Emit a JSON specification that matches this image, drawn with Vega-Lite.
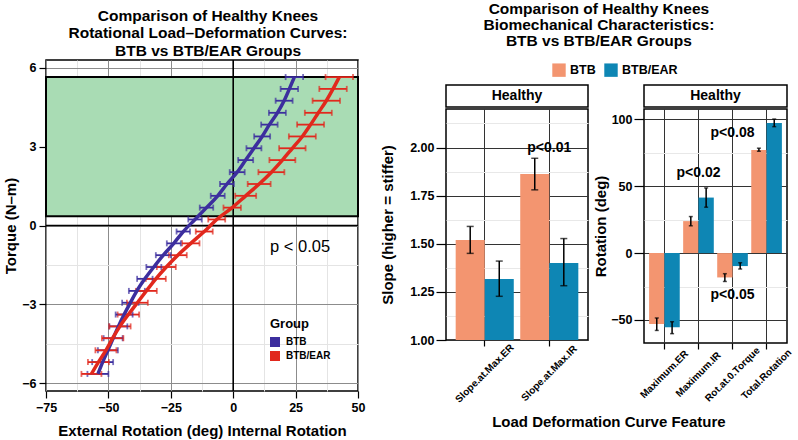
{
  "$schema": "https://vega.github.io/schema/vega-lite/v6.json",
  "padding": {"left": 2, "top": 1, "right": 2, "bottom": 0},
  "config": {
    "font": "Liberation Sans",
    "view": {"stroke": "black", "strokeWidth": 1.5},
    "axis": {"labelFont": "Liberation Sans", "labelFontWeight": "bold", "labelFontSize": 12.5, "labelColor": "black", "titleFont": "Liberation Sans", "titleFontSize": 15, "titleFontWeight": "bold", "titleColor": "black", "tickColor": "black", "domain": false, "tickSize": 6, "tickWidth": 1.2},
    "title": {"font": "Liberation Sans", "fontSize": 15.5, "fontWeight": "bold", "color": "black", "lineHeight": 17}
  },
  "datasets": {
    "curves": [
      {"g": "BTB", "t": 5.65, "r": 24.5, "lo": 21.0, "hi": 28.0},
      {"g": "BTB", "t": 5.2, "r": 22.5, "lo": 19.0, "hi": 26.0},
      {"g": "BTB", "t": 4.75, "r": 20.4, "lo": 17.0, "hi": 23.8},
      {"g": "BTB", "t": 4.29, "r": 17.7, "lo": 14.3, "hi": 21.1},
      {"g": "BTB", "t": 3.84, "r": 14.5, "lo": 11.2, "hi": 17.8},
      {"g": "BTB", "t": 3.39, "r": 11.6, "lo": 8.4, "hi": 14.8},
      {"g": "BTB", "t": 2.94, "r": 8.3, "lo": 5.3, "hi": 11.3},
      {"g": "BTB", "t": 2.49, "r": 5.0, "lo": 2.0, "hi": 8.0},
      {"g": "BTB", "t": 2.03, "r": 1.6, "lo": -1.4, "hi": 4.6},
      {"g": "BTB", "t": 1.58, "r": -2.5, "lo": -5.3, "hi": 0.3},
      {"g": "BTB", "t": 1.13, "r": -6.2, "lo": -9.0, "hi": -3.4},
      {"g": "BTB", "t": 0.68, "r": -10.7, "lo": -13.4, "hi": -8.0},
      {"g": "BTB", "t": 0.23, "r": -15.3, "lo": -18.0, "hi": -12.6},
      {"g": "BTB", "t": -0.23, "r": -20.0, "lo": -22.7, "hi": -17.3},
      {"g": "BTB", "t": -0.68, "r": -23.8, "lo": -26.6, "hi": -21.0},
      {"g": "BTB", "t": -1.13, "r": -28.0, "lo": -31.0, "hi": -25.0},
      {"g": "BTB", "t": -1.58, "r": -31.8, "lo": -34.8, "hi": -28.8},
      {"g": "BTB", "t": -2.03, "r": -35.4, "lo": -38.5, "hi": -32.3},
      {"g": "BTB", "t": -2.49, "r": -38.6, "lo": -41.8, "hi": -35.4},
      {"g": "BTB", "t": -2.94, "r": -41.2, "lo": -44.5, "hi": -37.9},
      {"g": "BTB", "t": -3.39, "r": -43.7, "lo": -47.1, "hi": -40.3},
      {"g": "BTB", "t": -3.84, "r": -46.0, "lo": -49.6, "hi": -42.4},
      {"g": "BTB", "t": -4.29, "r": -48.1, "lo": -51.9, "hi": -44.3},
      {"g": "BTB", "t": -4.75, "r": -50.2, "lo": -54.2, "hi": -46.2},
      {"g": "BTB", "t": -5.2, "r": -52.3, "lo": -56.5, "hi": -48.1},
      {"g": "BTB", "t": -5.65, "r": -54.2, "lo": -58.4, "hi": -50.0},
      {"g": "BTB/EAR", "t": 5.65, "r": 42.5, "lo": 37.0, "hi": 48.0},
      {"g": "BTB/EAR", "t": 5.2, "r": 40.0, "lo": 34.5, "hi": 45.5},
      {"g": "BTB/EAR", "t": 4.75, "r": 37.3, "lo": 31.8, "hi": 42.8},
      {"g": "BTB/EAR", "t": 4.29, "r": 34.1, "lo": 28.7, "hi": 39.5},
      {"g": "BTB/EAR", "t": 3.84, "r": 31.0, "lo": 25.6, "hi": 36.4},
      {"g": "BTB/EAR", "t": 3.39, "r": 27.7, "lo": 22.3, "hi": 33.1},
      {"g": "BTB/EAR", "t": 2.94, "r": 23.7, "lo": 18.4, "hi": 29.0},
      {"g": "BTB/EAR", "t": 2.49, "r": 19.7, "lo": 14.5, "hi": 24.9},
      {"g": "BTB/EAR", "t": 2.03, "r": 15.3, "lo": 10.1, "hi": 20.5},
      {"g": "BTB/EAR", "t": 1.58, "r": 10.4, "lo": 5.8, "hi": 15.0},
      {"g": "BTB/EAR", "t": 1.13, "r": 5.0, "lo": 0.8, "hi": 9.2},
      {"g": "BTB/EAR", "t": 0.68, "r": -0.4, "lo": -3.9, "hi": 3.1},
      {"g": "BTB/EAR", "t": 0.23, "r": -6.6, "lo": -10.0, "hi": -3.2},
      {"g": "BTB/EAR", "t": -0.23, "r": -11.6, "lo": -15.0, "hi": -8.2},
      {"g": "BTB/EAR", "t": -0.68, "r": -17.0, "lo": -20.5, "hi": -13.5},
      {"g": "BTB/EAR", "t": -1.13, "r": -22.2, "lo": -25.8, "hi": -18.6},
      {"g": "BTB/EAR", "t": -1.58, "r": -26.8, "lo": -30.6, "hi": -23.0},
      {"g": "BTB/EAR", "t": -2.03, "r": -31.0, "lo": -35.0, "hi": -27.0},
      {"g": "BTB/EAR", "t": -2.49, "r": -34.8, "lo": -39.0, "hi": -30.6},
      {"g": "BTB/EAR", "t": -2.94, "r": -38.4, "lo": -42.6, "hi": -34.2},
      {"g": "BTB/EAR", "t": -3.39, "r": -42.0, "lo": -46.3, "hi": -37.7},
      {"g": "BTB/EAR", "t": -3.84, "r": -45.4, "lo": -49.7, "hi": -41.1},
      {"g": "BTB/EAR", "t": -4.29, "r": -48.3, "lo": -52.6, "hi": -44.0},
      {"g": "BTB/EAR", "t": -4.75, "r": -51.0, "lo": -55.2, "hi": -46.8},
      {"g": "BTB/EAR", "t": -5.2, "r": -54.0, "lo": -58.2, "hi": -49.8},
      {"g": "BTB/EAR", "t": -5.65, "r": -56.8, "lo": -60.8, "hi": -52.8}
    ],
    "slope": [
      {"feature": "Slope.at.Max.ER", "group": "BTB", "mean": 1.52, "lo": 1.45, "hi": 1.59},
      {"feature": "Slope.at.Max.ER", "group": "BTB/EAR", "mean": 1.317, "lo": 1.227, "hi": 1.41},
      {"feature": "Slope.at.Max.IR", "group": "BTB", "mean": 1.862, "lo": 1.78, "hi": 1.944},
      {"feature": "Slope.at.Max.IR", "group": "BTB/EAR", "mean": 1.4, "lo": 1.282, "hi": 1.527}
    ],
    "rotation": [
      {"feature": "Maximum.ER", "group": "BTB", "mean": -53.0, "lo": -57.8, "hi": -48.5},
      {"feature": "Maximum.ER", "group": "BTB/EAR", "mean": -55.5, "lo": -60.2, "hi": -51.3},
      {"feature": "Maximum.IR", "group": "BTB", "mean": 23.9, "lo": 20.4, "hi": 27.3},
      {"feature": "Maximum.IR", "group": "BTB/EAR", "mean": 41.5, "lo": 34.3, "hi": 48.7},
      {"feature": "Rot.at.0.Torque", "group": "BTB", "mean": -18.2, "lo": -21.2, "hi": -15.4},
      {"feature": "Rot.at.0.Torque", "group": "BTB/EAR", "mean": -9.7, "lo": -11.9, "hi": -7.2},
      {"feature": "Total.Rotation", "group": "BTB", "mean": 77.1, "lo": 76.1, "hi": 78.4},
      {"feature": "Total.Rotation", "group": "BTB/EAR", "mean": 97.2, "lo": 94.5, "hi": 100.2}
    ]
  },
  "hconcat": [
    {
      "width": 312,
      "height": 331,
      "view": {"stroke": "black", "strokeWidth": 1.5},
      "title": {"text": ["Comparison of Healthy Knees", "Rotational Load–Deformation Curves:", "BTB vs BTB/EAR Groups"], "anchor": "middle", "dx": 6, "offset": 0, "lineHeight": 17.5},
      "layer": [
        {
          "data": {"values": [{"x1": -75, "x2": 50, "y1": 0.35, "y2": 5.65}]},
          "mark": {"type": "rect", "fill": "#A9DCB4", "stroke": "black", "strokeWidth": 2},
          "encoding": {
            "x": {"field": "x1", "type": "quantitative", "scale": {"domain": [-75, 50], "nice": false, "zero": false},
              "axis": {"orient": "top", "values": [-62.5, -37.5, -12.5, 12.5, 37.5], "grid": true, "gridColor": "#e4e4e4", "labels": false, "ticks": false, "domain": false, "title": null}},
            "x2": {"field": "x2"},
            "y": {"field": "y1", "type": "quantitative", "scale": {"domain": [-6.3, 6.3], "nice": false, "zero": false},
              "axis": {"orient": "right", "values": [-4.5, -1.5, 1.5, 4.5], "grid": true, "gridColor": "#e4e4e4", "labels": false, "ticks": false, "domain": false, "title": null}},
            "y2": {"field": "y2"}
          }
        },
        {
          "data": {"values": [{"v": 0}]},
          "mark": {"type": "rule", "color": "black", "strokeWidth": 1.6},
          "encoding": {"x": {"field": "v", "type": "quantitative", "axis": null, "scale": {"domain": [-75, 50], "nice": false, "zero": false}}}
        },
        {
          "data": {"values": [{"v": 0}]},
          "mark": {"type": "rule", "color": "black", "strokeWidth": 1.3},
          "encoding": {"y": {"field": "v", "type": "quantitative", "axis": null, "scale": {"domain": [-6.3, 6.3], "nice": false, "zero": false}}}
        },
        {
          "data": {"name": "curves"},
          "mark": {"type": "tick", "orient": "vertical", "size": 6, "thickness": 1.8},
          "encoding": {
            "x": {"field": "lo", "type": "quantitative", "axis": null, "scale": {"domain": [-75, 50], "nice": false, "zero": false}},
            "y": {"field": "t", "type": "quantitative", "axis": null, "scale": {"domain": [-6.3, 6.3], "nice": false, "zero": false}},
            "color": {"field": "g", "type": "nominal", "scale": {"domain": ["BTB", "BTB/EAR"], "range": ["#3C2E9E", "#E1281D"]},
              "legend": {"orient": "none", "legendX": 224, "legendY": 258, "title": "Group", "titleFontSize": 13, "titleFontWeight": "bold", "titleColor": "black", "titlePadding": 6, "labelFontSize": 10, "labelFontWeight": "bold", "labelColor": "black", "symbolType": "square", "symbolSize": 100, "symbolStrokeWidth": 0, "symbolOpacity": 1, "rowPadding": 4, "labelOffset": 6}}
          }
        },
        {
          "data": {"name": "curves"},
          "mark": {"type": "rule", "strokeWidth": 1.8},
          "encoding": {
            "x": {"field": "lo", "type": "quantitative", "axis": null, "scale": {"domain": [-75, 50], "nice": false, "zero": false}},
            "x2": {"field": "hi"},
            "y": {"field": "t", "type": "quantitative", "axis": null, "scale": {"domain": [-6.3, 6.3], "nice": false, "zero": false}},
            "color": {"field": "g", "type": "nominal", "scale": {"domain": ["BTB", "BTB/EAR"], "range": ["#3C2E9E", "#E1281D"]}, "legend": null}
          }
        },
        {
          "data": {"name": "curves"},
          "mark": {"type": "tick", "orient": "vertical", "size": 6, "thickness": 1.8},
          "encoding": {
            "x": {"field": "hi", "type": "quantitative", "axis": null, "scale": {"domain": [-75, 50], "nice": false, "zero": false}},
            "y": {"field": "t", "type": "quantitative", "axis": null, "scale": {"domain": [-6.3, 6.3], "nice": false, "zero": false}},
            "color": {"field": "g", "type": "nominal", "scale": {"domain": ["BTB", "BTB/EAR"], "range": ["#3C2E9E", "#E1281D"]}, "legend": null}
          }
        },
        {
          "data": {"name": "curves"},
          "mark": {"type": "line", "strokeWidth": 3.5, "interpolate": "monotone"},
          "encoding": {
            "x": {"field": "r", "type": "quantitative", "scale": {"domain": [-75, 50], "nice": false, "zero": false},
              "axis": {"values": [-75, -50, -25, 0, 25, 50], "format": "d", "labelFlush": false, "grid": true, "gridColor": "#8c8c8c", "gridWidth": 1, "tickSize": 7, "labelPadding": 3, "titlePadding": 10, "title": "External Rotation (deg) Internal Rotation"}},
            "y": {"field": "t", "type": "quantitative", "scale": {"domain": [-6.3, 6.3], "nice": false, "zero": false},
              "axis": {"values": [-6, -3, 0, 3, 6], "format": "d", "labelFlush": false, "grid": true, "gridColor": "#8c8c8c", "gridWidth": 1, "tickSize": 7, "labelPadding": 3, "titlePadding": 3, "title": "Torque (N–m)"}},
            "color": {"field": "g", "type": "nominal", "scale": {"domain": ["BTB", "BTB/EAR"], "range": ["#3C2E9E", "#E1281D"]}, "legend": null},
            "order": {"field": "t", "type": "quantitative"}
          }
        },
        {
          "data": {"values": [{"x": 26.8, "y": -0.83, "label": "p < 0.05"}]},
          "mark": {"type": "text", "fontSize": 16.5, "color": "black"},
          "encoding": {
            "x": {"field": "x", "type": "quantitative", "axis": null, "scale": {"domain": [-75, 50], "nice": false, "zero": false}},
            "y": {"field": "y", "type": "quantitative", "axis": null, "scale": {"domain": [-6.3, 6.3], "nice": false, "zero": false}},
            "text": {"field": "label"}
          }
        }
      ],
      "resolve": {"axis": {"x": "independent", "y": "independent"}}
    },
    {
      "title": {"text": ["Comparison of Healthy Knees", "Biomechanical Characteristics:", "BTB vs BTB/EAR Groups"], "anchor": "middle", "dx": 12, "offset": 10, "lineHeight": 16.3},
      "spacing": 8,
      "vconcat": [
        {
          "width": 100, "height": 16,
          "view": {"stroke": null},
          "data": {"values": []},
          "mark": {"type": "point", "opacity": 0}
        },
        {
          "title": {"text": "Load Deformation Curve Feature", "orient": "bottom", "anchor": "middle", "fontSize": 15, "dx": 22, "offset": 10},
          "spacing": 4,
          "resolve": {"scale": {"xOffset": "independent"}},
          "hconcat": [
            {
              "spacing": 0,
              "vconcat": [
                {
                  "width": 142, "height": 22,
                  "view": {"stroke": "black", "strokeWidth": 1.5},
                  "data": {"values": [{"panel": "Healthy"}]},
                  "mark": {"type": "text", "fontSize": 14, "fontWeight": "bold", "color": "black"},
                  "encoding": {"text": {"field": "panel"}}
                },
                {
                  "width": 142, "height": 231,
                  "view": {"stroke": "black", "strokeWidth": 1.5},
                  "data": {"name": "slope"},
                  "layer": [
                    {
                      "mark": {"type": "bar"},
                      "encoding": {
                        "x": {"field": "feature", "type": "nominal", "scale": {"domain": ["Slope.at.Max.ER", "Slope.at.Max.IR"], "paddingInner": 0.1, "paddingOuter": 0.15},
                          "axis": {"title": null, "labelAngle": -45, "labelAlign": "center", "labelBaseline": "middle", "labelFontSize": 10, "labelPadding": 27, "labelOverlap": false, "labelBound": false, "tickSize": 6, "grid": true, "bandPosition": 0.5, "gridColor": "#333333", "gridWidth": 1}},
                        "xOffset": {"field": "group", "type": "nominal", "scale": {"domain": ["BTB", "BTB/EAR"]}},
                        "y": {"field": "mean", "type": "quantitative", "scale": {"domain": [1, 2.2], "nice": false, "zero": false},
                          "axis": {"orient": "right", "values": [1.125, 1.375, 1.625, 1.875, 2.125], "grid": true, "gridColor": "#e8e8e8", "labels": false, "ticks": false, "domain": false, "title": null}},
                        "y2": {"datum": 1},
                        "color": {"field": "group", "type": "nominal", "scale": {"domain": ["BTB", "BTB/EAR"], "range": ["#F39570", "#0E86B4"]},
                          "legend": {"title": null, "orient": "none", "legendX": 106, "legendY": 3, "direction": "horizontal", "labelFontSize": 12.5, "labelFontWeight": "bold", "labelColor": "black", "symbolType": "square", "symbolSize": 180, "symbolStrokeWidth": 0, "columnPadding": 8, "labelOffset": 4}}
                      }
                    },
                    {
                      "mark": {"type": "rule", "color": "black", "strokeWidth": 1.5},
                      "encoding": {
                        "x": {"field": "feature", "type": "nominal", "axis": null, "scale": {"domain": ["Slope.at.Max.ER", "Slope.at.Max.IR"], "paddingInner": 0.1, "paddingOuter": 0.15}},
                        "xOffset": {"field": "group", "type": "nominal", "scale": {"domain": ["BTB", "BTB/EAR"]}},
                        "y": {"field": "lo", "type": "quantitative", "scale": {"domain": [1, 2.2], "nice": false, "zero": false},
                          "axis": {"values": [1, 1.25, 1.5, 1.75, 2], "format": ".2f", "grid": true, "gridColor": "#333333", "gridWidth": 1, "tickSize": 10, "labelPadding": 2, "titlePadding": 14, "title": "Slope (higher = stiffer)"}},
                        "y2": {"field": "hi"}
                      }
                    },
                    {
                      "mark": {"type": "tick", "orient": "horizontal", "color": "black", "size": 7, "thickness": 1.5},
                      "encoding": {
                        "x": {"field": "feature", "type": "nominal", "axis": null, "scale": {"domain": ["Slope.at.Max.ER", "Slope.at.Max.IR"], "paddingInner": 0.1, "paddingOuter": 0.15}},
                        "xOffset": {"field": "group", "type": "nominal", "scale": {"domain": ["BTB", "BTB/EAR"]}},
                        "y": {"field": "lo", "type": "quantitative", "axis": null, "scale": {"domain": [1, 2.2], "nice": false, "zero": false}}
                      }
                    },
                    {
                      "mark": {"type": "tick", "orient": "horizontal", "color": "black", "size": 7, "thickness": 1.5},
                      "encoding": {
                        "x": {"field": "feature", "type": "nominal", "axis": null, "scale": {"domain": ["Slope.at.Max.ER", "Slope.at.Max.IR"], "paddingInner": 0.1, "paddingOuter": 0.15}},
                        "xOffset": {"field": "group", "type": "nominal", "scale": {"domain": ["BTB", "BTB/EAR"]}},
                        "y": {"field": "hi", "type": "quantitative", "axis": null, "scale": {"domain": [1, 2.2], "nice": false, "zero": false}}
                      }
                    },
                    {
                      "data": {"values": [{"feature": "Slope.at.Max.IR", "y": 2.0, "label": "p<0.01"}]},
                      "mark": {"type": "text", "fontSize": 14, "fontWeight": "bold", "color": "black"},
                      "encoding": {
                        "x": {"field": "feature", "type": "nominal", "axis": null, "scale": {"domain": ["Slope.at.Max.ER", "Slope.at.Max.IR"], "paddingInner": 0.1, "paddingOuter": 0.15}},
                        "y": {"field": "y", "type": "quantitative", "axis": null, "scale": {"domain": [1, 2.2], "nice": false, "zero": false}},
                        "text": {"field": "label"}
                      }
                    }
                  ],
                  "resolve": {"axis": {"x": "independent", "y": "independent"}}
                }
              ]
            },
            {
              "spacing": 0,
              "vconcat": [
                {
                  "width": 143, "height": 22,
                  "view": {"stroke": "black", "strokeWidth": 1.5},
                  "data": {"values": [{"panel": "Healthy"}]},
                  "mark": {"type": "text", "fontSize": 14, "fontWeight": "bold", "color": "black"},
                  "encoding": {"text": {"field": "panel"}}
                },
                {
                  "width": 143, "height": 234,
                  "view": {"stroke": "black", "strokeWidth": 1.5},
                  "data": {"name": "rotation"},
                  "layer": [
                    {
                      "mark": {"type": "bar"},
                      "encoding": {
                        "x": {"field": "feature", "type": "nominal", "scale": {"domain": ["Maximum.ER", "Maximum.IR", "Rot.at.0.Torque", "Total.Rotation"], "paddingInner": 0.1, "paddingOuter": 0.15},
                          "axis": {"title": null, "labelAngle": -45, "labelAlign": "center", "labelBaseline": "middle", "labelFontSize": 10, "labelPadding": 25, "labelOverlap": false, "labelBound": false, "tickSize": 6, "grid": true, "bandPosition": 0.5, "gridColor": "#333333", "gridWidth": 1}},
                        "xOffset": {"field": "group", "type": "nominal", "scale": {"domain": ["BTB", "BTB/EAR"]}},
                        "y": {"field": "mean", "type": "quantitative", "scale": {"domain": [-67.2, 107.7], "nice": false, "zero": false},
                          "axis": {"orient": "right", "values": [-25, 25, 75], "grid": true, "gridColor": "#e8e8e8", "labels": false, "ticks": false, "domain": false, "title": null}},
                        "y2": {"datum": 0},
                        "color": {"field": "group", "type": "nominal", "scale": {"domain": ["BTB", "BTB/EAR"], "range": ["#F39570", "#0E86B4"]}, "legend": null}
                      }
                    },
                    {
                      "mark": {"type": "rule", "color": "black", "strokeWidth": 1.5},
                      "encoding": {
                        "x": {"field": "feature", "type": "nominal", "axis": null, "scale": {"domain": ["Maximum.ER", "Maximum.IR", "Rot.at.0.Torque", "Total.Rotation"], "paddingInner": 0.1, "paddingOuter": 0.15}},
                        "xOffset": {"field": "group", "type": "nominal", "scale": {"domain": ["BTB", "BTB/EAR"]}},
                        "y": {"field": "lo", "type": "quantitative", "scale": {"domain": [-67.2, 107.7], "nice": false, "zero": false},
                          "axis": {"values": [-50, 0, 50, 100], "format": "d", "grid": true, "gridColor": "#333333", "gridWidth": 1, "tickSize": 10, "labelPadding": 2, "titlePadding": 2, "title": "Rotation (deg)"}},
                        "y2": {"field": "hi"}
                      }
                    },
                    {
                      "mark": {"type": "tick", "orient": "horizontal", "color": "black", "size": 4, "thickness": 1.5},
                      "encoding": {
                        "x": {"field": "feature", "type": "nominal", "axis": null, "scale": {"domain": ["Maximum.ER", "Maximum.IR", "Rot.at.0.Torque", "Total.Rotation"], "paddingInner": 0.1, "paddingOuter": 0.15}},
                        "xOffset": {"field": "group", "type": "nominal", "scale": {"domain": ["BTB", "BTB/EAR"]}},
                        "y": {"field": "lo", "type": "quantitative", "axis": null, "scale": {"domain": [-67.2, 107.7], "nice": false, "zero": false}}
                      }
                    },
                    {
                      "mark": {"type": "tick", "orient": "horizontal", "color": "black", "size": 4, "thickness": 1.5},
                      "encoding": {
                        "x": {"field": "feature", "type": "nominal", "axis": null, "scale": {"domain": ["Maximum.ER", "Maximum.IR", "Rot.at.0.Torque", "Total.Rotation"], "paddingInner": 0.1, "paddingOuter": 0.15}},
                        "xOffset": {"field": "group", "type": "nominal", "scale": {"domain": ["BTB", "BTB/EAR"]}},
                        "y": {"field": "hi", "type": "quantitative", "axis": null, "scale": {"domain": [-67.2, 107.7], "nice": false, "zero": false}}
                      }
                    },
                    {
                      "data": {"values": [
                        {"feature": "Maximum.IR", "y": 60, "label": "p<0.02"},
                        {"feature": "Rot.at.0.Torque", "y": 90, "label": "p<0.08"},
                        {"feature": "Rot.at.0.Torque", "y": -31, "label": "p<0.05"}
                      ]},
                      "mark": {"type": "text", "fontSize": 14, "fontWeight": "bold", "color": "black"},
                      "encoding": {
                        "x": {"field": "feature", "type": "nominal", "axis": null, "scale": {"domain": ["Maximum.ER", "Maximum.IR", "Rot.at.0.Torque", "Total.Rotation"], "paddingInner": 0.1, "paddingOuter": 0.15}},
                        "y": {"field": "y", "type": "quantitative", "axis": null, "scale": {"domain": [-67.2, 107.7], "nice": false, "zero": false}},
                        "text": {"field": "label"}
                      }
                    }
                  ],
                  "resolve": {"axis": {"x": "independent", "y": "independent"}}
                }
              ]
            }
          ]
        }
      ]
    }
  ],
  "spacing": 13,
  "resolve": {"scale": {"color": "independent"}, "legend": {"color": "independent"}}
}
